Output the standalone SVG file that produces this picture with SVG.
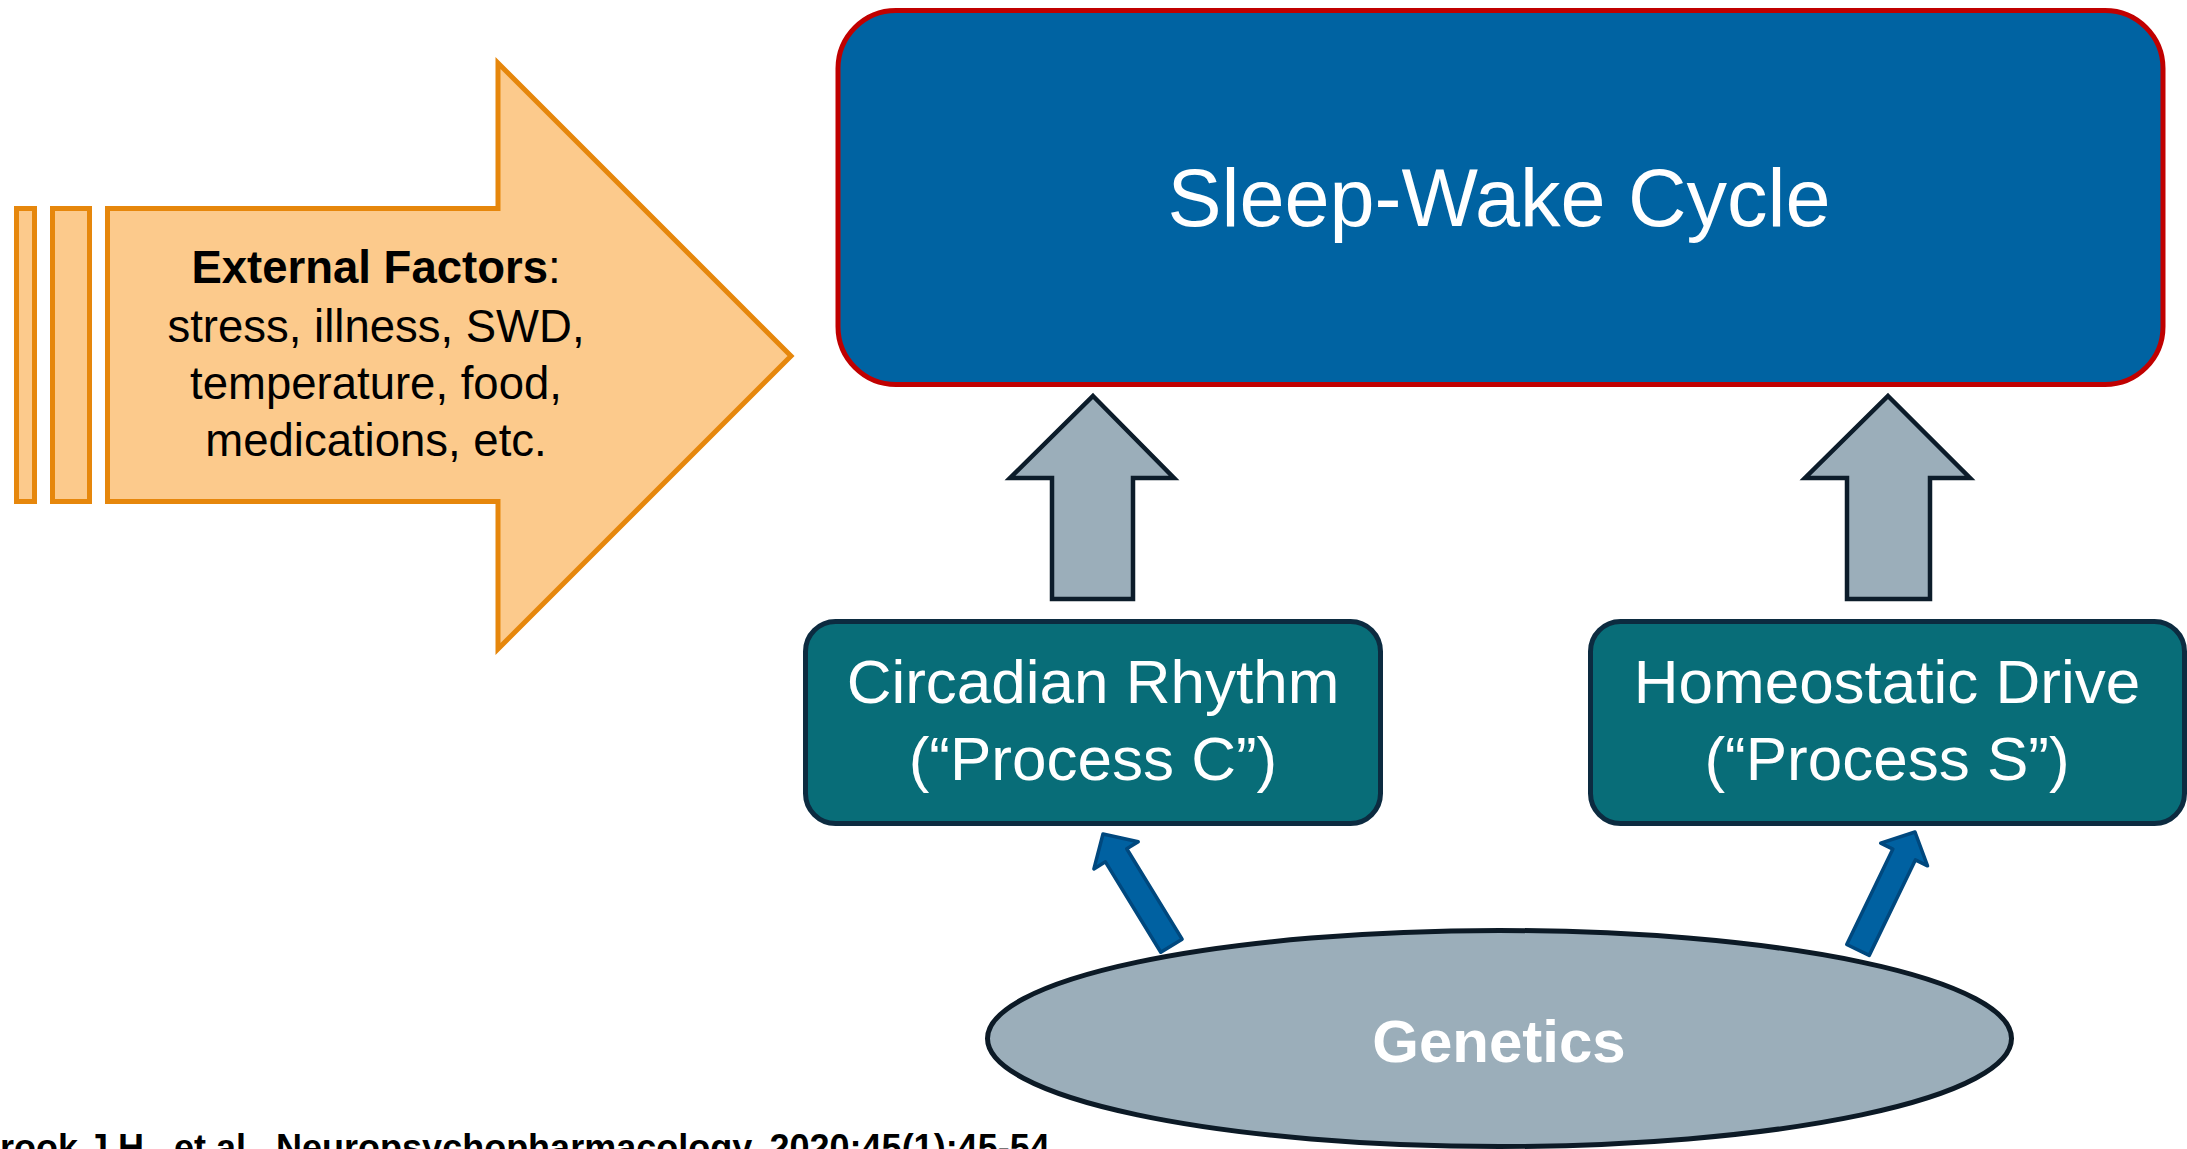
<svg xmlns="http://www.w3.org/2000/svg" width="2187" height="1149" viewBox="0 0 2187 1149">
<style>
.ext{fill:#FCCA8C;stroke:#E6870C;stroke-width:5}
.gray{fill:#9BAEBA;stroke:#0C1C2A;stroke-width:4.5}
.teal{fill:#086D78;stroke:#0C2B40;stroke-width:5}
.blue{fill:#0061A1;stroke:#00487E;stroke-width:3.5;stroke-linejoin:round}
.t{font-family:"Liberation Sans",Arial,sans-serif}
.w{fill:#ffffff}
</style>
<rect width="2187" height="1149" fill="#ffffff"/>
<g id="external-factors">
<rect class="ext" x="16.5" y="208.5" width="18" height="293"/>
<rect class="ext" x="52.5" y="208.5" width="37" height="293"/>
<polygon class="ext" points="107.5,208.5 498,208.5 498,63 791,356 498,649 498,501.5 107.5,501.5"/>
<text class="t" x="376" y="283" font-size="45.5" text-anchor="middle" fill="#000"><tspan font-weight="bold">External Factors</tspan>:</text>
<text class="t" x="376" y="342" font-size="45.5" text-anchor="middle" fill="#000">stress, illness, SWD,</text>
<text class="t" x="376" y="399" font-size="45.5" text-anchor="middle" fill="#000">temperature, food,</text>
<text class="t" x="376" y="456" font-size="45.5" text-anchor="middle" fill="#000">medications, etc.</text>
</g>
<g id="sleep-wake-cycle">
<rect x="838" y="10.5" width="1325" height="374" rx="58" ry="58" fill="#0063A2" stroke="#C00000" stroke-width="5"/>
<text class="t w" x="1499" y="226" font-size="81" text-anchor="middle">Sleep-Wake Cycle</text>
</g>
<g id="circadian-rhythm">
<rect class="teal" x="805.5" y="621.5" width="575" height="202" rx="30" ry="30"/>
<text class="t w" x="1093" y="703" font-size="62" text-anchor="middle">Circadian Rhythm</text>
<text class="t w" x="1093" y="780" font-size="62" text-anchor="middle">(“Process C”)</text>
</g>
<g id="homeostatic-drive">
<rect class="teal" x="1590.5" y="621.5" width="594" height="202" rx="30" ry="30"/>
<text class="t w" x="1887" y="703" font-size="62" text-anchor="middle">Homeostatic Drive</text>
<text class="t w" x="1887" y="780" font-size="62" text-anchor="middle">(“Process S”)</text>
</g>
<g id="genetics">
<ellipse cx="1499.5" cy="1038.5" rx="512" ry="108" fill="#9BAEBA" stroke="#0C1A26" stroke-width="5"/>
<text class="t w" x="1499" y="1062" font-size="60" font-weight="bold" text-anchor="middle">Genetics</text>
</g>
<g id="connectors">
<polygon class="gray" points="1093,396 1174,478 1133,478 1133,599 1052,599 1052,478 1010,478"/>
<polygon class="gray" points="1888,396 1970,478 1930,478 1930,599 1847,599 1847,478 1805,478"/>
<polygon class="blue" transform="translate(1103,834) rotate(-31.5)" points="0,0 26,25 12.5,25 12.5,131 -12.5,131 -12.5,25 -26,25"/>
<polygon class="blue" transform="translate(1915,832) rotate(25.8)" points="0,0 26,25 12.5,25 12.5,131 -12.5,131 -12.5,25 -26,25"/>
</g>
<g id="citation">
<text class="t" x="0" y="1160" font-size="36" font-weight="bold" fill="#000">rook J.H., et al., Neuropsychopharmacology. 2020;45(1):45-54</text>
</g>
</svg>
